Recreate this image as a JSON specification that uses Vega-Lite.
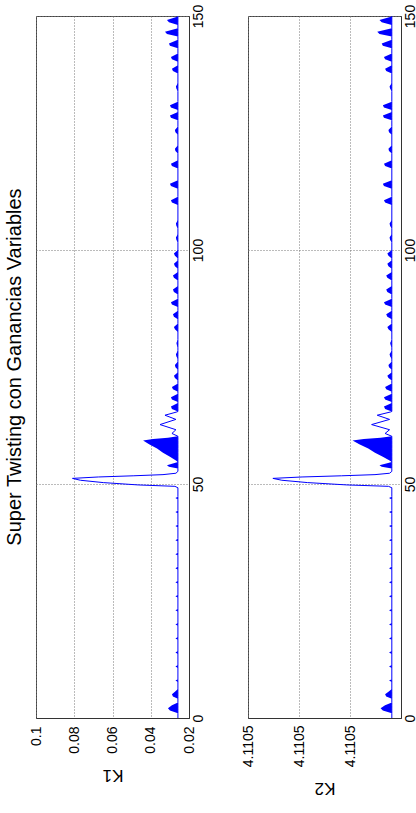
{
  "$schema": "https://vega.github.io/schema/vega-lite/v6.json",
  "background": "white",
  "padding": {"left": 4, "top": 3, "right": 0, "bottom": 0},
  "bounds": "flush",
  "spacing": 59,
  "config": {
    "font": "Liberation Sans",
    "view": {"stroke": "#444", "strokeWidth": 1},
    "axis": {
      "labelFont": "Liberation Sans", "titleFont": "Liberation Sans",
      "labelColor": "#000", "titleColor": "#000", "domainColor": "#333",
      "gridColor": "#777", "gridDash": [1, 2], "ticks": false,
      "labelFlush": false, "labelOverlap": false, "labelFontSize": 14,
      "titleFontSize": 17, "titleFontWeight": "normal"
    }
  },
  "datasets": {
    "sig": [
      {"t":0,"a":0.0258,"b":0.0258,"c":4.1104918,"e":4.1104918},
      {"t":1.0,"a":0.0258,"b":0.0258,"c":4.1104918,"e":4.1104918},
      {"t":1.6,"a":0.0258,"b":0.02996,"c":4.1104918,"e":4.11049356},
      {"t":2.1,"a":0.0258,"b":0.031,"c":4.1104918,"e":4.110494},
      {"t":2.7,"a":0.0258,"b":0.02892,"c":4.1104918,"e":4.11049312},
      {"t":3.3,"a":0.0258,"b":0.0258,"c":4.1104918,"e":4.1104918},
      {"t":4.1,"a":0.0258,"b":0.0258,"c":4.1104918,"e":4.1104918},
      {"t":4.6,"a":0.0258,"b":0.0284,"c":4.1104918,"e":4.1104929},
      {"t":5.1,"a":0.0258,"b":0.02892,"c":4.1104918,"e":4.11049312},
      {"t":5.6,"a":0.0258,"b":0.02736,"c":4.1104918,"e":4.11049246},
      {"t":6.2,"a":0.0258,"b":0.0258,"c":4.1104918,"e":4.1104918},
      {"t":7.7,"a":0.0258,"b":0.0258,"c":4.1104918,"e":4.1104918},
      {"t":8,"a":0.0258,"b":0.0271,"c":4.1104918,"e":4.11049235},
      {"t":8.3,"a":0.0258,"b":0.0258,"c":4.1104918,"e":4.1104918},
      {"t":10.7,"a":0.0258,"b":0.0258,"c":4.1104918,"e":4.1104918},
      {"t":11,"a":0.0258,"b":0.0271,"c":4.1104918,"e":4.11049235},
      {"t":11.3,"a":0.0258,"b":0.0258,"c":4.1104918,"e":4.1104918},
      {"t":13.7,"a":0.0258,"b":0.0258,"c":4.1104918,"e":4.1104918},
      {"t":14,"a":0.0258,"b":0.0271,"c":4.1104918,"e":4.11049235},
      {"t":14.3,"a":0.0258,"b":0.0258,"c":4.1104918,"e":4.1104918},
      {"t":16.7,"a":0.0258,"b":0.0258,"c":4.1104918,"e":4.1104918},
      {"t":17,"a":0.0258,"b":0.0271,"c":4.1104918,"e":4.11049235},
      {"t":17.3,"a":0.0258,"b":0.0258,"c":4.1104918,"e":4.1104918},
      {"t":19.7,"a":0.0258,"b":0.0258,"c":4.1104918,"e":4.1104918},
      {"t":20,"a":0.0258,"b":0.0271,"c":4.1104918,"e":4.11049235},
      {"t":20.3,"a":0.0258,"b":0.0258,"c":4.1104918,"e":4.1104918},
      {"t":22.7,"a":0.0258,"b":0.0258,"c":4.1104918,"e":4.1104918},
      {"t":23,"a":0.0258,"b":0.0271,"c":4.1104918,"e":4.11049235},
      {"t":23.3,"a":0.0258,"b":0.0258,"c":4.1104918,"e":4.1104918},
      {"t":25.7,"a":0.0258,"b":0.0258,"c":4.1104918,"e":4.1104918},
      {"t":26,"a":0.0258,"b":0.0271,"c":4.1104918,"e":4.11049235},
      {"t":26.3,"a":0.0258,"b":0.0258,"c":4.1104918,"e":4.1104918},
      {"t":28.7,"a":0.0258,"b":0.0258,"c":4.1104918,"e":4.1104918},
      {"t":29,"a":0.0258,"b":0.0271,"c":4.1104918,"e":4.11049235},
      {"t":29.3,"a":0.0258,"b":0.0258,"c":4.1104918,"e":4.1104918},
      {"t":31.7,"a":0.0258,"b":0.0258,"c":4.1104918,"e":4.1104918},
      {"t":32,"a":0.0258,"b":0.0271,"c":4.1104918,"e":4.11049235},
      {"t":32.3,"a":0.0258,"b":0.0258,"c":4.1104918,"e":4.1104918},
      {"t":34.7,"a":0.0258,"b":0.0258,"c":4.1104918,"e":4.1104918},
      {"t":35,"a":0.0258,"b":0.0271,"c":4.1104918,"e":4.11049235},
      {"t":35.3,"a":0.0258,"b":0.0258,"c":4.1104918,"e":4.1104918},
      {"t":37.7,"a":0.0258,"b":0.0258,"c":4.1104918,"e":4.1104918},
      {"t":38,"a":0.0258,"b":0.0271,"c":4.1104918,"e":4.11049235},
      {"t":38.3,"a":0.0258,"b":0.0258,"c":4.1104918,"e":4.1104918},
      {"t":40.7,"a":0.0258,"b":0.0258,"c":4.1104918,"e":4.1104918},
      {"t":41,"a":0.0258,"b":0.0271,"c":4.1104918,"e":4.11049235},
      {"t":41.3,"a":0.0258,"b":0.0258,"c":4.1104918,"e":4.1104918},
      {"t":43.7,"a":0.0258,"b":0.0258,"c":4.1104918,"e":4.1104918},
      {"t":44,"a":0.0258,"b":0.0271,"c":4.1104918,"e":4.11049235},
      {"t":44.3,"a":0.0258,"b":0.0258,"c":4.1104918,"e":4.1104918},
      {"t":46.7,"a":0.0258,"b":0.0258,"c":4.1104918,"e":4.1104918},
      {"t":47,"a":0.0258,"b":0.0271,"c":4.1104918,"e":4.11049235},
      {"t":47.3,"a":0.0258,"b":0.0258,"c":4.1104918,"e":4.1104918},
      {"t":49.2,"a":0.0258,"b":0.0258,"c":4.1104918,"e":4.1104918},
      {"t":49.5,"a":0.02736,"b":0.02736,"c":4.11049246,"e":4.11049246},
      {"t":49.8,"a":0.0466,"b":0.0466,"c":4.1105006,"e":4.1105006},
      {"t":50.3,"a":0.0648,"b":0.0648,"c":4.1105083,"e":4.1105083},
      {"t":50.8,"a":0.07676,"b":0.07676,"c":4.11051336,"e":4.11051336},
      {"t":51.2,"a":0.08092,"b":0.08092,"c":4.11051512,"e":4.11051512},
      {"t":51.5,"a":0.0674,"b":0.0674,"c":4.1105094,"e":4.1105094},
      {"t":51.75,"a":0.0492,"b":0.0492,"c":4.1105017,"e":4.1105017},
      {"t":52.0,"a":0.0336,"b":0.0336,"c":4.1104951,"e":4.1104951},
      {"t":52.3,"a":0.02684,"b":0.02684,"c":4.11049224,"e":4.11049224},
      {"t":52.7,"a":0.0258,"b":0.0258,"c":4.1104918,"e":4.1104918},
      {"t":53.3,"a":0.0258,"b":0.0258,"c":4.1104918,"e":4.1104918},
      {"t":53.7,"a":0.0258,"b":0.03048,"c":4.1104918,"e":4.11049378},
      {"t":54.0,"a":0.0258,"b":0.03152,"c":4.1104918,"e":4.11049422},
      {"t":54.4,"a":0.0258,"b":0.0284,"c":4.1104918,"e":4.1104929},
      {"t":54.7,"a":0.0258,"b":0.0258,"c":4.1104918,"e":4.1104918},
      {"t":55.0,"a":0.0258,"b":0.02684,"c":4.1104918,"e":4.11049224},
      {"t":55.8,"a":0.0258,"b":0.02996,"c":4.1104918,"e":4.11049356},
      {"t":56.7,"a":0.0258,"b":0.0336,"c":4.1104918,"e":4.1104951},
      {"t":57.6,"a":0.0258,"b":0.03672,"c":4.1104918,"e":4.11049642},
      {"t":58.5,"a":0.0258,"b":0.04088,"c":4.1104918,"e":4.11049818},
      {"t":59.3,"a":0.0258,"b":0.044,"c":4.1104918,"e":4.1104995},
      {"t":59.6,"a":0.0258,"b":0.0388,"c":4.1104918,"e":4.1104973},
      {"t":59.9,"a":0.0258,"b":0.031,"c":4.1104918,"e":4.110494},
      {"t":60.2,"a":0.0258,"b":0.0258,"c":4.1104918,"e":4.1104918},
      {"t":60.8,"a":0.02892,"b":0.02892,"c":4.11049312,"e":4.11049312},
      {"t":61.6,"a":0.02684,"b":0.02684,"c":4.11049224,"e":4.11049224},
      {"t":62.7,"a":0.03516,"b":0.03516,"c":4.11049576,"e":4.11049576},
      {"t":63.8,"a":0.02684,"b":0.02684,"c":4.11049224,"e":4.11049224},
      {"t":64.7,"a":0.03256,"b":0.03256,"c":4.11049466,"e":4.11049466},
      {"t":65.4,"a":0.02632,"b":0.02632,"c":4.11049202,"e":4.11049202},
      {"t":65.5,"a":0.0258,"b":0.0258,"c":4.1104918,"e":4.1104918},
      {"t":66.05,"a":0.0258,"b":0.02892,"c":4.1104918,"e":4.11049312},
      {"t":66.55,"a":0.0258,"b":0.02944,"c":4.1104918,"e":4.11049334},
      {"t":67.3,"a":0.0258,"b":0.0258,"c":4.1104918,"e":4.1104918},
      {"t":67.5,"a":0.0258,"b":0.0258,"c":4.1104918,"e":4.1104918},
      {"t":68.05,"a":0.0258,"b":0.02892,"c":4.1104918,"e":4.11049312},
      {"t":68.55,"a":0.0258,"b":0.02944,"c":4.1104918,"e":4.11049334},
      {"t":69.3,"a":0.0258,"b":0.0258,"c":4.1104918,"e":4.1104918},
      {"t":69.7,"a":0.0258,"b":0.0258,"c":4.1104918,"e":4.1104918},
      {"t":70.25,"a":0.0258,"b":0.0284,"c":4.1104918,"e":4.1104929},
      {"t":70.75,"a":0.0258,"b":0.02892,"c":4.1104918,"e":4.11049312},
      {"t":71.5,"a":0.0258,"b":0.0258,"c":4.1104918,"e":4.1104918},
      {"t":72.1,"a":0.0258,"b":0.0258,"c":4.1104918,"e":4.1104918},
      {"t":72.65,"a":0.0258,"b":0.02736,"c":4.1104918,"e":4.11049246},
      {"t":73.15,"a":0.0258,"b":0.02788,"c":4.1104918,"e":4.11049268},
      {"t":73.9,"a":0.0258,"b":0.0258,"c":4.1104918,"e":4.1104918},
      {"t":74.4,"a":0.0258,"b":0.0258,"c":4.1104918,"e":4.1104918},
      {"t":74.95,"a":0.0258,"b":0.0271,"c":4.1104918,"e":4.11049235},
      {"t":75.45,"a":0.0258,"b":0.02736,"c":4.1104918,"e":4.11049246},
      {"t":76.2,"a":0.0258,"b":0.0258,"c":4.1104918,"e":4.1104918},
      {"t":76.7,"a":0.0258,"b":0.0258,"c":4.1104918,"e":4.1104918},
      {"t":77.25,"a":0.0258,"b":0.02658,"c":4.1104918,"e":4.11049213},
      {"t":77.75,"a":0.0258,"b":0.02684,"c":4.1104918,"e":4.11049224},
      {"t":78.5,"a":0.0258,"b":0.0258,"c":4.1104918,"e":4.1104918},
      {"t":79.1,"a":0.0258,"b":0.0258,"c":4.1104918,"e":4.1104918},
      {"t":79.65,"a":0.0258,"b":0.02632,"c":4.1104918,"e":4.11049202},
      {"t":80.15,"a":0.0258,"b":0.02658,"c":4.1104918,"e":4.11049213},
      {"t":80.9,"a":0.0258,"b":0.0258,"c":4.1104918,"e":4.1104918},
      {"t":82.5,"a":0.0258,"b":0.0258,"c":4.1104918,"e":4.1104918},
      {"t":83.05,"a":0.0258,"b":0.02736,"c":4.1104918,"e":4.11049246},
      {"t":83.55,"a":0.0258,"b":0.02788,"c":4.1104918,"e":4.11049268},
      {"t":84.3,"a":0.0258,"b":0.0258,"c":4.1104918,"e":4.1104918},
      {"t":85.2,"a":0.0258,"b":0.0258,"c":4.1104918,"e":4.1104918},
      {"t":85.75,"a":0.0258,"b":0.02788,"c":4.1104918,"e":4.11049268},
      {"t":86.25,"a":0.0258,"b":0.0284,"c":4.1104918,"e":4.1104929},
      {"t":87.0,"a":0.0258,"b":0.0258,"c":4.1104918,"e":4.1104918},
      {"t":87.8,"a":0.0258,"b":0.0258,"c":4.1104918,"e":4.1104918},
      {"t":88.35,"a":0.0258,"b":0.02892,"c":4.1104918,"e":4.11049312},
      {"t":88.85,"a":0.0258,"b":0.02944,"c":4.1104918,"e":4.11049334},
      {"t":89.6,"a":0.0258,"b":0.0258,"c":4.1104918,"e":4.1104918},
      {"t":90.5,"a":0.0258,"b":0.0258,"c":4.1104918,"e":4.1104918},
      {"t":91.05,"a":0.0258,"b":0.02788,"c":4.1104918,"e":4.11049268},
      {"t":91.55,"a":0.0258,"b":0.0284,"c":4.1104918,"e":4.1104929},
      {"t":92.3,"a":0.0258,"b":0.0258,"c":4.1104918,"e":4.1104918},
      {"t":93.5,"a":0.0258,"b":0.0258,"c":4.1104918,"e":4.1104918},
      {"t":94.05,"a":0.0258,"b":0.02788,"c":4.1104918,"e":4.11049268},
      {"t":94.55,"a":0.0258,"b":0.0284,"c":4.1104918,"e":4.1104929},
      {"t":95.3,"a":0.0258,"b":0.0258,"c":4.1104918,"e":4.1104918},
      {"t":96.0,"a":0.0258,"b":0.0258,"c":4.1104918,"e":4.1104918},
      {"t":96.55,"a":0.0258,"b":0.02736,"c":4.1104918,"e":4.11049246},
      {"t":97.05,"a":0.0258,"b":0.02788,"c":4.1104918,"e":4.11049268},
      {"t":97.8,"a":0.0258,"b":0.0258,"c":4.1104918,"e":4.1104918},
      {"t":98.2,"a":0.0258,"b":0.0258,"c":4.1104918,"e":4.1104918},
      {"t":98.75,"a":0.0258,"b":0.02736,"c":4.1104918,"e":4.11049246},
      {"t":99.25,"a":0.0258,"b":0.02788,"c":4.1104918,"e":4.11049268},
      {"t":100.0,"a":0.0258,"b":0.0258,"c":4.1104918,"e":4.1104918},
      {"t":101.6,"a":0.0258,"b":0.0258,"c":4.1104918,"e":4.1104918},
      {"t":102.15,"a":0.0258,"b":0.02658,"c":4.1104918,"e":4.11049213},
      {"t":102.65,"a":0.0258,"b":0.02684,"c":4.1104918,"e":4.11049224},
      {"t":103.4,"a":0.0258,"b":0.0258,"c":4.1104918,"e":4.1104918},
      {"t":104.6,"a":0.0258,"b":0.0258,"c":4.1104918,"e":4.1104918},
      {"t":105.15,"a":0.0258,"b":0.02658,"c":4.1104918,"e":4.11049213},
      {"t":105.65,"a":0.0258,"b":0.02684,"c":4.1104918,"e":4.11049224},
      {"t":106.4,"a":0.0258,"b":0.0258,"c":4.1104918,"e":4.1104918},
      {"t":109.6,"a":0.0258,"b":0.0258,"c":4.1104918,"e":4.1104918},
      {"t":110.15,"a":0.0258,"b":0.02892,"c":4.1104918,"e":4.11049312},
      {"t":110.65,"a":0.0258,"b":0.02944,"c":4.1104918,"e":4.11049334},
      {"t":111.4,"a":0.0258,"b":0.0258,"c":4.1104918,"e":4.1104918},
      {"t":113.1,"a":0.0258,"b":0.0258,"c":4.1104918,"e":4.1104918},
      {"t":113.65,"a":0.0258,"b":0.02944,"c":4.1104918,"e":4.11049334},
      {"t":114.15,"a":0.0258,"b":0.02996,"c":4.1104918,"e":4.11049356},
      {"t":114.9,"a":0.0258,"b":0.0258,"c":4.1104918,"e":4.1104918},
      {"t":117.4,"a":0.0258,"b":0.0258,"c":4.1104918,"e":4.1104918},
      {"t":117.95,"a":0.0258,"b":0.02892,"c":4.1104918,"e":4.11049312},
      {"t":118.45,"a":0.0258,"b":0.02944,"c":4.1104918,"e":4.11049334},
      {"t":119.2,"a":0.0258,"b":0.0258,"c":4.1104918,"e":4.1104918},
      {"t":120.6,"a":0.0258,"b":0.0258,"c":4.1104918,"e":4.1104918},
      {"t":121.15,"a":0.0258,"b":0.0271,"c":4.1104918,"e":4.11049235},
      {"t":121.65,"a":0.0258,"b":0.02736,"c":4.1104918,"e":4.11049246},
      {"t":122.4,"a":0.0258,"b":0.0258,"c":4.1104918,"e":4.1104918},
      {"t":124.6,"a":0.0258,"b":0.0258,"c":4.1104918,"e":4.1104918},
      {"t":125.15,"a":0.0258,"b":0.0271,"c":4.1104918,"e":4.11049235},
      {"t":125.65,"a":0.0258,"b":0.02736,"c":4.1104918,"e":4.11049246},
      {"t":126.4,"a":0.0258,"b":0.0258,"c":4.1104918,"e":4.1104918},
      {"t":127.7,"a":0.0258,"b":0.0258,"c":4.1104918,"e":4.1104918},
      {"t":128.25,"a":0.0258,"b":0.02944,"c":4.1104918,"e":4.11049334},
      {"t":128.75,"a":0.0258,"b":0.02996,"c":4.1104918,"e":4.11049356},
      {"t":129.5,"a":0.0258,"b":0.0258,"c":4.1104918,"e":4.1104918},
      {"t":129.9,"a":0.0258,"b":0.0258,"c":4.1104918,"e":4.1104918},
      {"t":130.45,"a":0.0258,"b":0.02944,"c":4.1104918,"e":4.11049334},
      {"t":130.95,"a":0.0258,"b":0.02996,"c":4.1104918,"e":4.11049356},
      {"t":131.7,"a":0.0258,"b":0.0258,"c":4.1104918,"e":4.1104918},
      {"t":133.9,"a":0.0258,"b":0.0258,"c":4.1104918,"e":4.1104918},
      {"t":134.45,"a":0.0258,"b":0.02658,"c":4.1104918,"e":4.11049213},
      {"t":134.95,"a":0.0258,"b":0.02684,"c":4.1104918,"e":4.11049224},
      {"t":135.7,"a":0.0258,"b":0.0258,"c":4.1104918,"e":4.1104918},
      {"t":137.7,"a":0.0258,"b":0.0258,"c":4.1104918,"e":4.1104918},
      {"t":138.25,"a":0.0258,"b":0.0284,"c":4.1104918,"e":4.1104929},
      {"t":138.75,"a":0.0258,"b":0.02892,"c":4.1104918,"e":4.11049312},
      {"t":139.5,"a":0.0258,"b":0.0258,"c":4.1104918,"e":4.1104918},
      {"t":140.2,"a":0.0258,"b":0.0258,"c":4.1104918,"e":4.1104918},
      {"t":140.75,"a":0.0258,"b":0.02892,"c":4.1104918,"e":4.11049312},
      {"t":141.25,"a":0.0258,"b":0.02944,"c":4.1104918,"e":4.11049334},
      {"t":142.0,"a":0.0258,"b":0.0258,"c":4.1104918,"e":4.1104918},
      {"t":143.1,"a":0.0258,"b":0.0258,"c":4.1104918,"e":4.1104918},
      {"t":143.65,"a":0.0258,"b":0.02996,"c":4.1104918,"e":4.11049356},
      {"t":144.15,"a":0.0258,"b":0.03048,"c":4.1104918,"e":4.11049378},
      {"t":144.9,"a":0.0258,"b":0.0258,"c":4.1104918,"e":4.1104918},
      {"t":145.6,"a":0.0258,"b":0.0258,"c":4.1104918,"e":4.1104918},
      {"t":146.15,"a":0.0258,"b":0.03152,"c":4.1104918,"e":4.11049422},
      {"t":146.65,"a":0.0258,"b":0.03256,"c":4.1104918,"e":4.11049466},
      {"t":147.4,"a":0.0258,"b":0.0258,"c":4.1104918,"e":4.1104918},
      {"t":148.1,"a":0.0258,"b":0.0258,"c":4.1104918,"e":4.1104918},
      {"t":148.65,"a":0.0258,"b":0.03048,"c":4.1104918,"e":4.11049378},
      {"t":149.15,"a":0.0258,"b":0.03152,"c":4.1104918,"e":4.11049422},
      {"t":149.9,"a":0.0258,"b":0.0258,"c":4.1104918,"e":4.1104918},
      {"t":150,"a":0.0258,"b":0.0258,"c":4.1104918,"e":4.1104918}
    ]
  },
  "hconcat": [
    {
      "width": 153,
      "height": 702,
      "data": {"name": "sig"},
      "title": {"text": "Super Twisting con Ganancias Variables", "orient": "left", "anchor": "middle", "frame": "group", "fontSize": 20, "fontWeight": "normal", "font": "Liberation Sans", "color": "#000", "offset": 4},
      "encoding": {
        "y": {"field": "t", "type": "quantitative", "scale": {"domain": [0, 150], "nice": false, "zero": false},
          "axis": {"orient": "right", "values": [0, 50, 100, 150], "format": "d", "labelAngle": 270, "labelAlign": "center", "labelBaseline": "top", "labelPadding": 2, "grid": true, "title": null}},
        "x": {"field": "a", "type": "quantitative", "stack": null, "scale": {"domain": [0.02, 0.1], "reverse": true, "nice": false, "zero": false},
          "axis": {"orient": "bottom", "values": [0.02, 0.04, 0.06, 0.08, 0.1], "format": ".2~f", "labelAngle": 270, "labelAlign": "right", "labelBaseline": "middle", "labelPadding": 8, "grid": true, "title": "K1", "titleAngle": 180, "titleBaseline": "bottom", "titlePadding": 12}}
      },
      "layer": [
        {"mark": {"type": "area", "orient": "horizontal", "color": "#0000ff", "interpolate": "linear"},
         "encoding": {"x2": {"field": "b"}}},
        {"mark": {"type": "line", "color": "#0000ff", "strokeWidth": 1},
         "encoding": {"order": {"field": "t", "type": "quantitative"}}}
      ]
    },
    {
      "width": 153,
      "height": 702,
      "data": {"name": "sig"},
      "encoding": {
        "y": {"field": "t", "type": "quantitative", "scale": {"domain": [0, 150], "nice": false, "zero": false},
          "axis": {"orient": "right", "values": [0, 50, 100, 150], "format": "d", "labelAngle": 270, "labelAlign": "center", "labelBaseline": "top", "labelPadding": 2, "grid": true, "title": null}},
        "x": {"field": "c", "type": "quantitative", "stack": null, "scale": {"domain": [4.11049, 4.11052], "reverse": true, "nice": false, "zero": false},
          "axis": {"orient": "bottom", "values": [4.1105, 4.11051, 4.11052], "format": ".4f", "labelAngle": 270, "labelAlign": "right", "labelBaseline": "middle", "labelPadding": 7, "grid": true, "title": "K2", "titleAngle": 180, "titleBaseline": "bottom", "titlePadding": 12}}
      },
      "layer": [
        {"mark": {"type": "area", "orient": "horizontal", "color": "#0000ff", "interpolate": "linear"},
         "encoding": {"x2": {"field": "e"}}},
        {"mark": {"type": "line", "color": "#0000ff", "strokeWidth": 1},
         "encoding": {"order": {"field": "t", "type": "quantitative"}}}
      ]
    }
  ]
}
